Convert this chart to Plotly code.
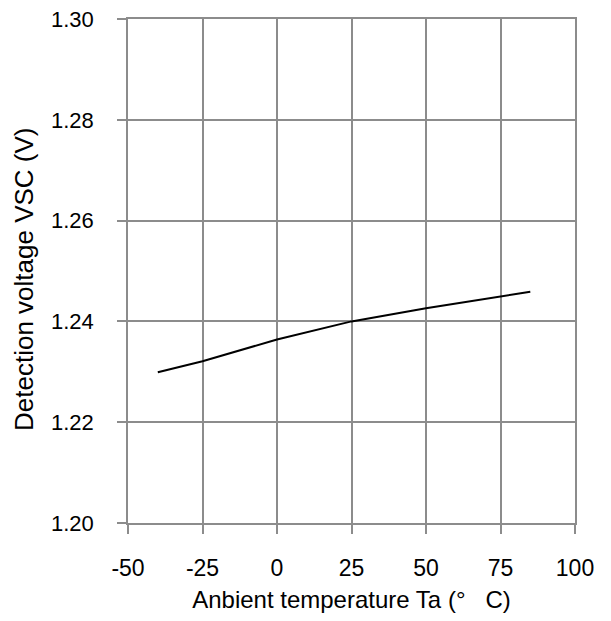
import plotly.graph_objects as go

temperature = [-40, -25, 0, 25, 50, 75, 85]
voltage = [1.2299, 1.2321, 1.2364, 1.2400, 1.2426, 1.2449, 1.2459]

x_ticks = [-50, -25, 0, 25, 50, 75, 100]
y_ticks = [1.20, 1.22, 1.24, 1.26, 1.28, 1.30]
y_labels = ["1.20", "1.22", "1.24", "1.26", "1.28", "1.30"]

grid = "#8c8c8c"
font = "Liberation Sans, Arial, sans-serif"

fig = go.Figure()
fig.add_trace(go.Scatter(x=temperature, y=voltage, mode="lines",
                         line=dict(color="black", width=2), showlegend=False))

fig.update_layout(
    width=611, height=621,
    margin=dict(l=128, r=36, t=19, b=98),
    paper_bgcolor="white", plot_bgcolor="white",
    font=dict(family=font, size=23, color="black"),
)
fig.update_xaxes(
    range=[-50, 100], tickvals=x_ticks, ticktext=[str(v) for v in x_ticks],
    showgrid=True, gridcolor=grid, gridwidth=1.5,
    showline=True, linecolor=grid, linewidth=1.5, mirror=True,
    ticks="outside", ticklen=9, tickcolor=grid, tickwidth=1.5,
    ticklabelstandoff=15, automargin=False,
    zeroline=False,
    title=dict(text="Anbient temperature Ta (°\u00a0\u00a0\u00a0C)", standoff=11,
               font=dict(size=24)),
)
fig.update_yaxes(
    range=[1.20, 1.30], tickvals=y_ticks, ticktext=y_labels,
    showgrid=True, gridcolor=grid, gridwidth=1.5,
    showline=True, linecolor=grid, linewidth=1.5, mirror=True,
    ticks="outside", ticklen=9, tickcolor=grid, tickwidth=1.5,
    ticklabelstandoff=19, automargin=False,
    tickfont=dict(size=22),
    zeroline=False,
)
fig.add_annotation(
    text="Detection voltage VSC (V)", textangle=-90,
    xref="paper", yref="paper", x=(24 - 128) / 447, y=(523 - 280) / 504,
    xanchor="center", yanchor="middle", showarrow=False,
    font=dict(size=26),
)

fig.write_html("out.html", config={"displayModeBar": False},
               post_script="document.body.style.margin='0';")
